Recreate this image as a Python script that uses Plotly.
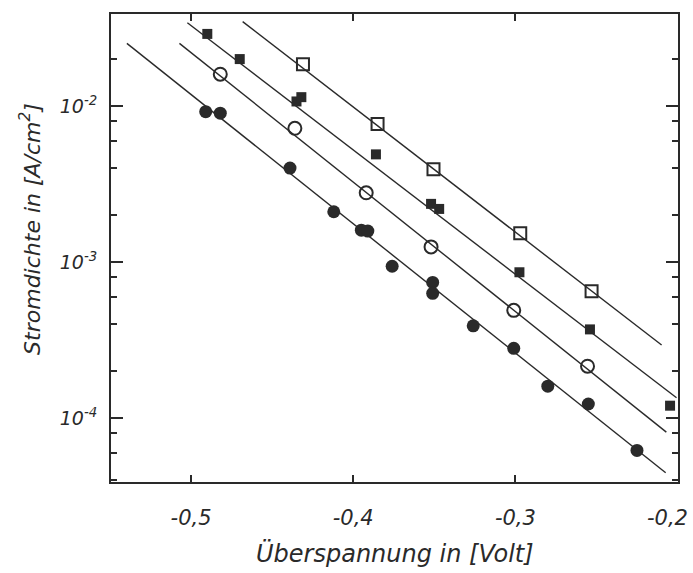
import plotly.graph_objects as go

# --- data ---
# filled circles
fc_x = [-0.491, -0.482, -0.439, -0.412, -0.395, -0.391, -0.376, -0.351, -0.351, -0.326, -0.301, -0.280, -0.255, -0.225]
fc_y = [9.2e-3, 9.0e-3, 4.0e-3, 2.1e-3, 1.6e-3, 1.58e-3, 9.4e-4, 7.4e-4, 6.3e-4, 3.9e-4, 2.8e-4, 1.6e-4, 1.23e-4, 6.2e-5]
# open circles
oc_x = [-0.482, -0.436, -0.392, -0.352, -0.301, -0.2555]
oc_y = [1.6e-2, 7.2e-3, 2.78e-3, 1.25e-3, 4.9e-4, 2.15e-4]
# filled squares
fs_x = [-0.490, -0.470, -0.435, -0.432, -0.386, -0.352, -0.347, -0.2975, -0.254, -0.2046]
fs_y = [2.9e-2, 2.0e-2, 1.07e-2, 1.14e-2, 4.9e-3, 2.36e-3, 2.19e-3, 8.6e-4, 3.7e-4, 1.2e-4]
# open squares
os_x = [-0.431, -0.385, -0.3505, -0.297, -0.253]
os_y = [1.85e-2, 7.67e-3, 3.94e-3, 1.53e-3, 6.5e-4]

# fitted straight lines (end points)
fc_line_x = [-0.5396, -0.2073]
fc_line_y = [10**-1.598, 10**-4.351]
oc_line_x = [-0.5072, -0.2069]
oc_line_y = [10**-1.598, 10**-4.09]
fs_line_x = [-0.5023, -0.2006]
fs_line_y = [10**-1.466, 10**-3.87]
os_line_x = [-0.4682, -0.2098]
os_line_y = [10**-1.459, 10**-3.532]

x_tickvals = [-0.5, -0.4, -0.3, -0.2]
x_ticktext = ["-0,5", "-0,4", "-0,3", "-0,2"]
y_tickvals = [1e-4, 1e-3, 1e-2]
y_ticktext = ["10<sup>-4</sup>", "10<sup>-3</sup>", "10<sup>-2</sup>"]
y_minor = [m * 10**e for e in (-5, -4, -3, -2) for m in (2, 4, 6, 8)]

ink = "#2a2a2a"
FONT = "DejaVu Sans"

fig = go.Figure()
for lx, ly in [(fc_line_x, fc_line_y), (oc_line_x, oc_line_y),
               (fs_line_x, fs_line_y), (os_line_x, os_line_y)]:
    fig.add_trace(go.Scatter(x=lx, y=ly, mode="lines",
                             line=dict(color=ink, width=1.4), showlegend=False))

fig.add_trace(go.Scatter(x=fc_x, y=fc_y, mode="markers", showlegend=False,
                         marker=dict(symbol="circle", size=13, color=ink)))
fig.add_trace(go.Scatter(x=oc_x, y=oc_y, mode="markers", showlegend=False,
                         marker=dict(symbol="circle-open", size=13, color=ink,
                                     line=dict(width=2))))
fig.add_trace(go.Scatter(x=fs_x, y=fs_y, mode="markers", showlegend=False,
                         marker=dict(symbol="square", size=10, color=ink)))
fig.add_trace(go.Scatter(x=os_x, y=os_y, mode="markers", showlegend=False,
                         marker=dict(symbol="square-open", size=12, color=ink,
                                     line=dict(width=2))))

# last tick label is drawn as an annotation so it stays inside the page
shown_ticktext = x_ticktext[:-1] + [""]

fig.update_layout(
    width=693, height=573,
    margin=dict(l=111, r=15, t=14, b=91, autoexpand=False),
    paper_bgcolor="white", plot_bgcolor="white",
    font=dict(family=FONT, color=ink, size=17, style="italic"),
    xaxis=dict(range=[-0.5494, -0.1997], tickvals=x_tickvals, ticktext=shown_ticktext,
               showgrid=False, zeroline=False, showline=True, linecolor=ink,
               linewidth=2, mirror="ticks", ticks="inside", ticklen=7,
               tickwidth=1.5, tickcolor=ink, ticklabelstandoff=16,
               automargin=False,
               tickfont=dict(size=21, family=FONT, style="italic")),
    yaxis=dict(type="log", range=[-4.41, -1.41], tickvals=y_tickvals,
               ticktext=y_ticktext, showgrid=False, zeroline=False,
               showline=True, linecolor=ink, linewidth=2, mirror="ticks",
               ticks="inside", ticklen=12, tickwidth=1.5, tickcolor=ink,
               ticklabelstandoff=8, automargin=False,
               tickfont=dict(size=19, family=FONT, style="italic")),
    annotations=[
        dict(text=x_ticktext[-1], x=x_tickvals[-1], xref="x", xanchor="right",
             xshift=12, y=-0.077, yref="paper", yanchor="middle", showarrow=False,
             font=dict(size=21, family=FONT, style="italic", color=ink)),
        dict(text="Überspannung in [Volt]", x=0.5, xref="paper", y=-0.118,
             yref="paper", yanchor="top", showarrow=False,
             font=dict(size=24, family=FONT, style="italic", color=ink)),
        dict(text="Stromdichte in [A/cm<sup>2</sup>]", x=-0.17, xref="paper",
             y=0.54, yref="paper", showarrow=False, textangle=-90,
             font=dict(size=22, family=FONT, style="italic", color=ink)),
    ],
)
fig.update_yaxes(minor=dict(tickvals=y_minor, ticks="inside", ticklen=6,
                            tickwidth=1.5, tickcolor=ink, showgrid=False))
fig.write_html("out.html")
